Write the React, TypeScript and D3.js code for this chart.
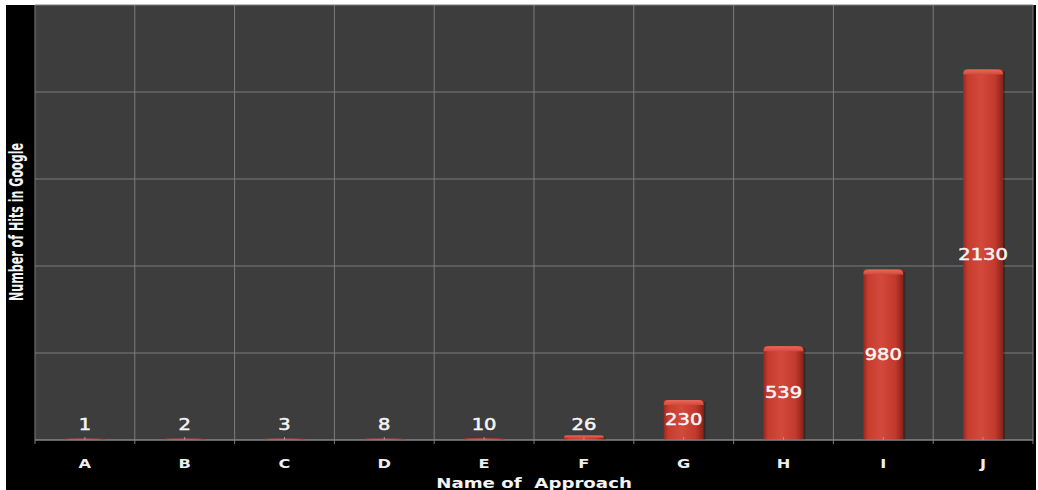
import React from "react";
import { scaleBand, scaleLinear } from "d3";

const categories = ["A", "B", "C", "D", "E", "F", "G", "H", "I", "J"];
const hits = [1, 2, 3, 8, 10, 26, 230, 539, 980, 2130];
const yMax = 2500;

const W = 1038;
const H = 490;
const plot = { left: 35, right: 1033, top: 5, bottom: 440 };
const SX = 1.3; // text in the source is stretched horizontally

export default function App() {
  const x = scaleBand<string>()
    .domain(categories)
    .range([plot.left, plot.right])
    .paddingInner(0.6)
    .paddingOuter(0.3);
  const y = scaleLinear().domain([0, yMax]).range([plot.bottom, plot.top]);
  const step = x.step();
  const bw = x.bandwidth();

  const stretched = (cx: number, cy: number) => `translate(${cx},${cy}) scale(${SX},1)`;

  return (
    <svg width={W} height={H} style={{ display: "block", position: "absolute", left: 0, top: 0 }}>
      <defs>
        <linearGradient id="barGrad" x1="0" x2="1" y1="0" y2="0">
          <stop offset="0%" stopColor="#9c271d" />
          <stop offset="12%" stopColor="#c63d30" />
          <stop offset="45%" stopColor="#d3493b" />
          <stop offset="80%" stopColor="#c23a2d" />
          <stop offset="100%" stopColor="#8a2118" />
        </linearGradient>
        <linearGradient id="capGrad" x1="0" x2="0" y1="0" y2="1">
          <stop offset="0%" stopColor="#e86a5a" />
          <stop offset="100%" stopColor="#d24a3b" />
        </linearGradient>
      </defs>

      <rect x={0} y={0} width={W} height={H} fill="#ffffff" />
      <rect x={6} y={5} width={1030} height={H - 5} fill="#000000" />
      <rect x={plot.left} y={plot.top} width={plot.right - plot.left} height={plot.bottom - plot.top} fill="#3d3d3d" />

      {/* horizontal grid */}
      {y.ticks(5).map((t) => (
        <line key={"h" + t} x1={plot.left} x2={plot.right} y1={y(t)} y2={y(t)} stroke="#7c7c7c" strokeWidth={1} />
      ))}
      {/* vertical grid at category boundaries */}
      {categories.map((c, i) => {
        const bx = plot.left + i * step;
        return <line key={"v" + c} x1={bx} x2={bx} y1={plot.top} y2={plot.bottom + 4} stroke="#7c7c7c" strokeWidth={1} />;
      })}
      <line x1={plot.right} x2={plot.right} y1={plot.top} y2={plot.bottom + 4} stroke="#7c7c7c" strokeWidth={1} />

      {/* bars */}
      {categories.map((c, i) => {
        const v = hits[i];
        const bx = x(c) as number;
        const top = y(v);
        const h = Math.max(plot.bottom - top, 1.5);
        const ty = plot.bottom - h;
        const cap = Math.min(5, h / 2);
        return (
          <g key={"b" + c}>
            <rect x={bx + 2} y={ty + 2} width={bw} height={h - 2 > 0 ? h - 2 : 0} fill="#000" opacity={0.25} />
            <rect x={bx} y={ty} width={bw} height={h} fill="url(#barGrad)" />
            {h > 3 && (
              <path
                d={`M${bx},${ty + cap} Q${bx},${ty} ${bx + cap},${ty} L${bx + bw - cap},${ty} Q${bx + bw},${ty} ${bx + bw},${ty + cap} Z`}
                fill="url(#capGrad)"
              />
            )}
          </g>
        );
      })}

      {/* axis line and center ticks */}
      <line x1={plot.left} x2={plot.right} y1={plot.bottom} y2={plot.bottom} stroke="#8a8a8a" strokeWidth={1.2} />
      {categories.map((c) => {
        const cx = (x(c) as number) + bw / 2;
        return <line key={"t" + c} x1={cx} x2={cx} y1={plot.bottom - 3} y2={plot.bottom} stroke="#9a9a9a" strokeWidth={1} />;
      })}

      {/* value labels */}
      {categories.map((c, i) => {
        const cx = (x(c) as number) + bw / 2;
        const cy = Math.min(y(hits[i] / 2), plot.bottom - 15);
        return (
          <text
            key={"l" + c}
            transform={stretched(cx, cy)}
            textAnchor="middle"
            dominantBaseline="central"
            fontFamily="DejaVu Sans, Verdana, sans-serif"
            fontSize={15}
            fill="#f4f4f4"
            stroke="#f4f4f4"
            strokeWidth={0.5}
          >
            {hits[i]}
          </text>
        );
      })}

      {/* category labels */}
      {categories.map((c) => {
        const cx = (x(c) as number) + bw / 2;
        return (
          <text
            key={"c" + c}
            transform={stretched(cx, 464)}
            textAnchor="middle"
            dominantBaseline="central"
            fontFamily="DejaVu Sans, Verdana, sans-serif"
            fontWeight="bold"
            fontSize={12.5}
            fill="#eeeeee"
          >
            {c}
          </text>
        );
      })}

      {/* axis titles */}
      <text
        transform={stretched(534, 488)}
        textAnchor="middle"
        fontFamily="DejaVu Sans, Verdana, sans-serif"
        fontWeight="bold"
        fontSize={14}
        fill="#f4f4f4"
        style={{ whiteSpace: "pre" }}
      >
        {"Name of  Approach"}
      </text>
      <text
        transform="translate(23,222) rotate(-90)"
        textAnchor="middle"
        fontFamily="Liberation Sans Narrow, DejaVu Sans Condensed, Arial Narrow, sans-serif"
        fontWeight="bold"
        fontSize={19}
        fill="#f4f4f4"
        textLength={158}
        lengthAdjust="spacingAndGlyphs"
      >
        Number of Hits in Google
      </text>
    </svg>
  );
}
